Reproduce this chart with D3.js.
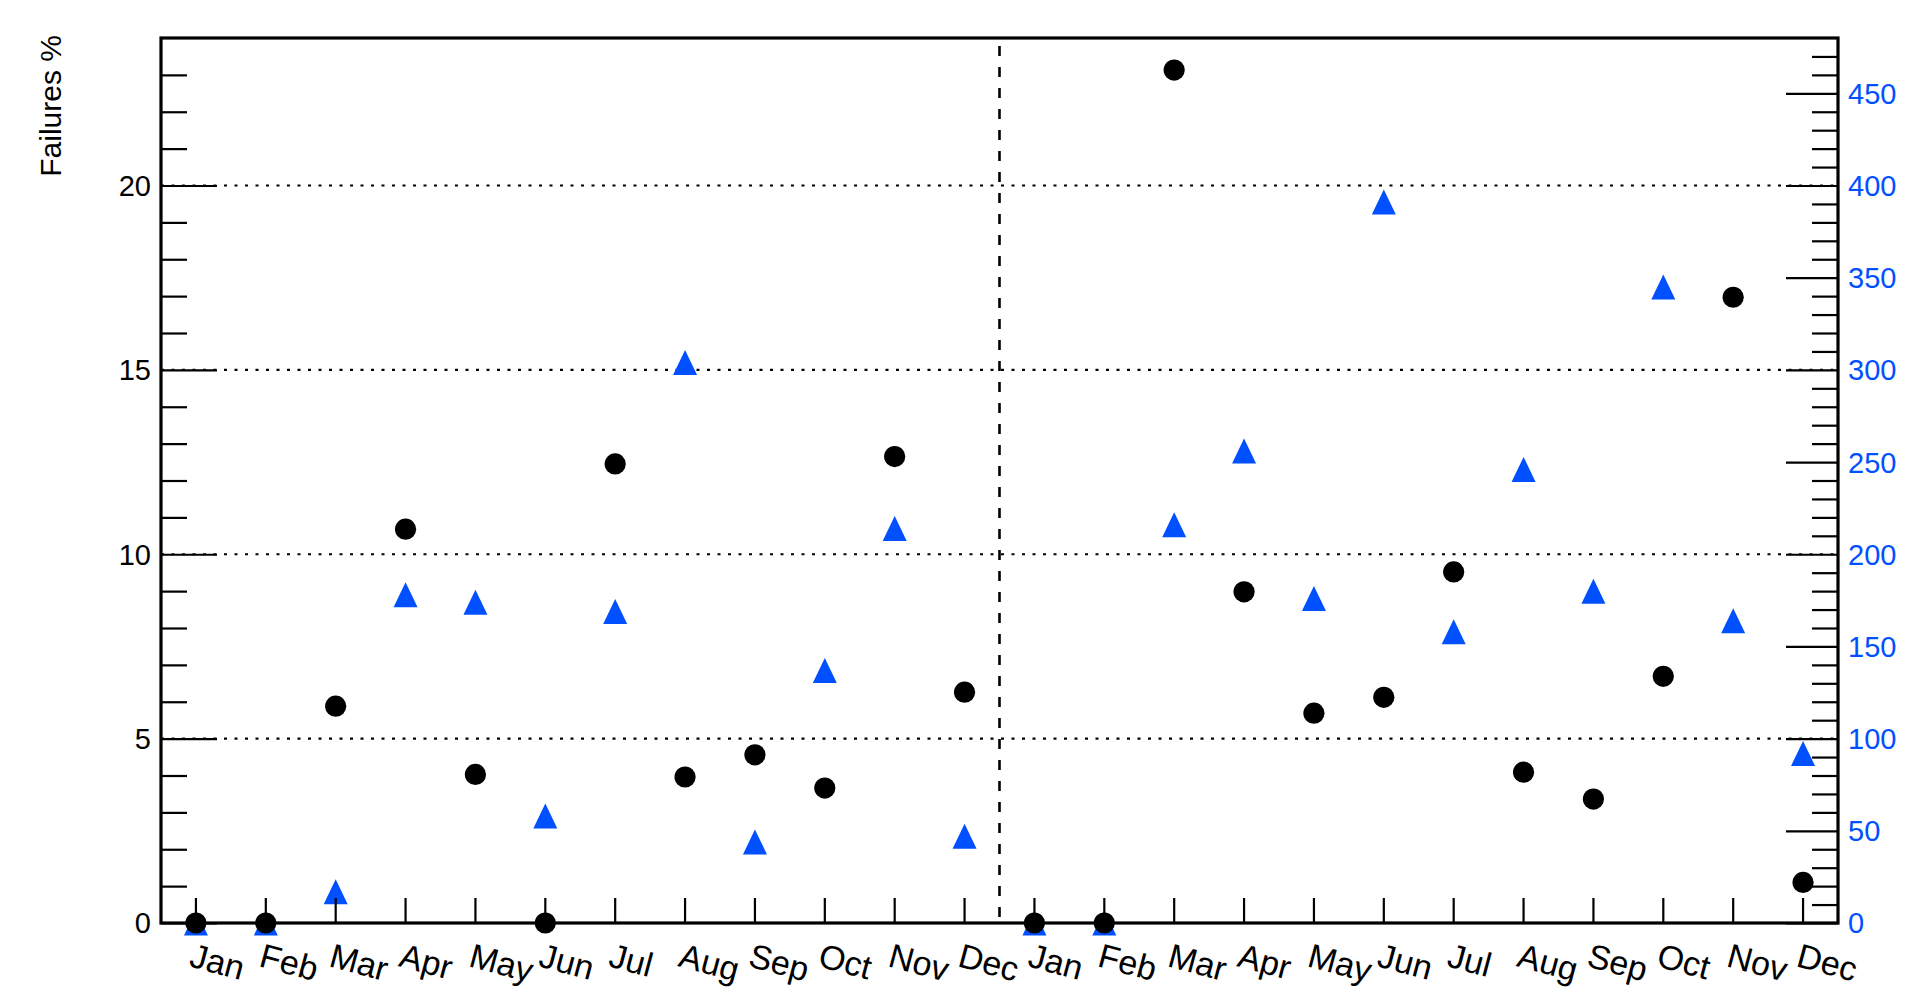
<!DOCTYPE html>
<html>
<head>
<meta charset="utf-8">
<title>Failures per month</title>
<style>
  body { margin: 0; background: #fff; }
  text { font-family: 'Liberation Sans', Arial, Helvetica, sans-serif; }
</style>
<script src="https://cdn.jsdelivr.net/npm/d3@7"></script>
</head>
<body>
<svg id="chart" width="1927" height="988"></svg>
<script>
// two years of months
var periods = ["Jan","Feb","Mar","Apr","May","Jun","Jul","Aug","Sep","Oct","Nov","Dec",
               "Jan","Feb","Mar","Apr","May","Jun","Jul","Aug","Sep","Oct","Nov","Dec"];
// failures % (left axis, black circles)
var failures = [0, 0, 5.88, 10.68, 4.03, 0, 12.45, 3.96, 4.56, 3.66, 12.65, 6.26,
                0, 0, 23.13, 8.98, 5.69, 6.12, 9.52, 4.09, 3.36, 6.69, 16.97, 1.10];
// counts (right axis, blue triangles)
var counts = [0, 0, 17, 178, 174, 58, 169, 304, 44, 137, 214, 47,
              0, 0, 216, 256, 176, 391, 158, 246, 180, 345, 164, 92];
var leftTicks = [0, 5, 10, 15, 20];
var rightTicks = [0, 50, 100, 150, 200, 250, 300, 350, 400, 450];

var x0 = 161, x1 = 1838, y0 = 38, y1 = 923;
var blue = "#0050ff";

var svg = d3.select("#chart");

var x = d3.scaleBand().domain(d3.range(periods.length)).range([x0, x1]).padding(0);
var y = d3.scaleLinear().domain([0, 24]).range([y1, y0]);
var y2 = d3.scaleLinear().domain([0, 480]).range([y1, y0]);
var cx = function (i) { return x(i) + x.bandwidth() / 2; };

// dotted grid
svg.append("g").selectAll("line").data(leftTicks.filter(function (d) { return d > 0; }))
  .enter().append("line")
  .attr("x1", x0).attr("x2", x1)
  .attr("y1", function (d) { return y(d); }).attr("y2", function (d) { return y(d); })
  .attr("stroke", "#000").attr("stroke-width", 2.2).attr("stroke-dasharray", "3,7.5");

// year separator
svg.append("line")
  .attr("x1", x(12)).attr("x2", x(12))
  .attr("y1", y0 + 8).attr("y2", y1)
  .attr("stroke", "#000").attr("stroke-width", 2.6).attr("stroke-dasharray", "10,11");

// triangles
svg.append("g").selectAll("path").data(counts).enter().append("path")
  .attr("d", function (d, i) {
    var px = cx(i), py = y2(d);
    return "M" + (px - 12) + "," + (py + 12.5) + "L" + (px + 12) + "," + (py + 12.5) +
           "L" + px + "," + (py - 12.5) + "Z";
  })
  .attr("fill", blue);

// circles
svg.append("g").selectAll("circle").data(failures).enter().append("circle")
  .attr("cx", function (d, i) { return cx(i); })
  .attr("cy", function (d) { return y(d); })
  .attr("r", 10.6)
  .attr("fill", "#000");

// left axis
var gl = svg.append("g").attr("transform", "translate(" + x0 + ",0)");
gl.call(d3.axisRight(y).tickValues(d3.range(0, 24)).tickSize(26).tickFormat(""))
  .call(function (g) { g.select(".domain").remove(); });
gl.selectAll(".tick line").attr("stroke-width", 2.2)
  .attr("x2", function (d) { return d % 5 === 0 ? 56 : 26; });
gl.selectAll(".lbl").data(leftTicks).enter().append("text")
  .attr("x", -10).attr("y", function (d) { return y(d); })
  .attr("dy", "0.36em").attr("text-anchor", "end")
  .attr("fill", "#000").attr("font-size", 29).text(function (d) { return d; });

// right axis
var gr = svg.append("g").attr("transform", "translate(" + x1 + ",0)");
gr.call(d3.axisLeft(y2).tickValues(d3.range(0, 480, 10)).tickSize(26).tickFormat(""))
  .call(function (g) { g.select(".domain").remove(); });
gr.selectAll(".tick line").attr("stroke-width", 2.2)
  .attr("x2", function (d) { return d % 50 === 0 ? -52 : -26; });
gr.selectAll(".lbl").data(rightTicks).enter().append("text")
  .attr("x", 10).attr("y", function (d) { return y2(d); })
  .attr("dy", "0.36em").attr("text-anchor", "start")
  .attr("fill", blue).attr("font-size", 29).text(function (d) { return d; });

// bottom axis
var gb = svg.append("g").attr("transform", "translate(0," + y1 + ")");
gb.selectAll("line").data(periods).enter().append("line")
  .attr("x1", function (d, i) { return cx(i); }).attr("x2", function (d, i) { return cx(i); })
  .attr("y1", 0).attr("y2", -25)
  .attr("stroke", "#000").attr("stroke-width", 2.2);
gb.selectAll("text").data(periods).enter().append("text")
  .attr("transform", function (d, i) { return "translate(" + (cx(i) - 8) + ",43) rotate(15)"; })
  .attr("font-size", 34).attr("fill", "#000")
  .text(function (d) { return d; });

// frame
svg.append("rect")
  .attr("x", x0).attr("y", y0).attr("width", x1 - x0).attr("height", y1 - y0)
  .attr("fill", "none").attr("stroke", "#000").attr("stroke-width", 3.2);

// y title
svg.append("text")
  .attr("transform", "translate(61,35) rotate(-90)")
  .attr("text-anchor", "end").attr("font-size", 30)
  .text("Failures %");
</script>
</body>
</html>
